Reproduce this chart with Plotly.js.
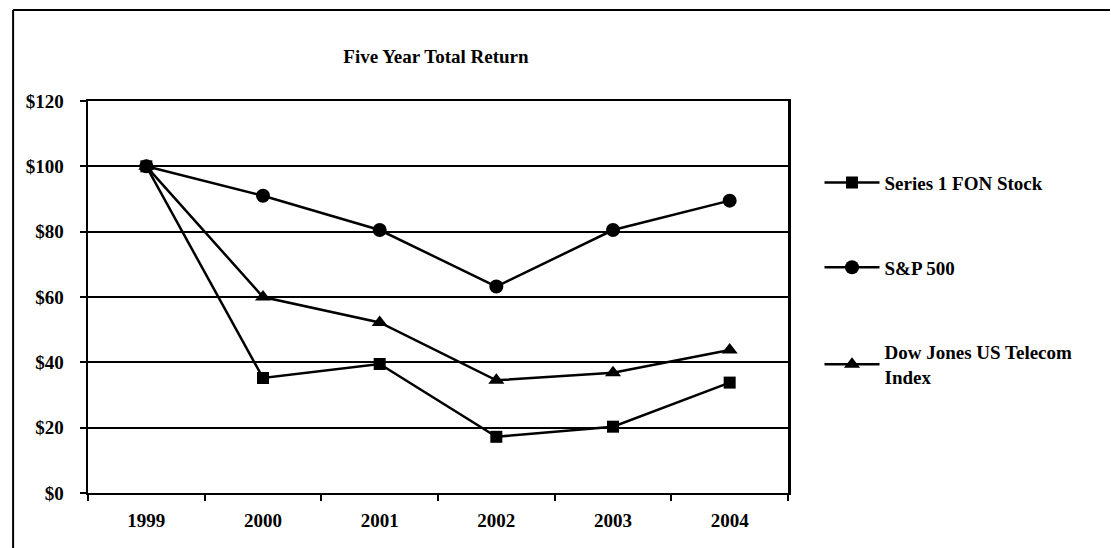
<!DOCTYPE html>
<html>
<head>
<meta charset="utf-8">
<script src="https://cdn.plot.ly/plotly-3.0.1.min.js"></script>
<style>html,body{margin:0;padding:0;background:#fff;}#chart{width:1111px;height:548px;}</style>
</head>
<body>
<div id="chart"></div>
<script>
var years = ['1999', '2000', '2001', '2002', '2003', '2004'];
var fonStock = [100, 35.2, 39.5, 17.2, 20.3, 33.8];
var sp500 = [100, 91, 80.5, 63.2, 80.5, 89.5];
var dowTelecom = [100, 60, 52.2, 34.5, 36.8, 43.8];
var yTicks = [0, 20, 40, 60, 80, 100, 120];
var yTickText = ['$0', '$20', '$40', '$60', '$80', '$100', '$120'];
var names = ['Series 1 FON Stock', 'S&amp;P 500', 'Dow Jones US Telecom<br>Index'];

var serif = 'Liberation Serif, Times New Roman, serif';
function fnt(s) { return {family: serif, size: s, color: '#000', weight: 'bold'}; }
function tr(y, name, sym, size, grp) {
  return {
    x: years, y: y, name: name, type: 'scatter', mode: 'lines+markers',
    line: {color: '#000', width: 2.5},
    marker: {symbol: sym, size: size, color: '#000'},
    legendgroup: grp
  };
}
var data = [
  tr(fonStock, names[0], 'square', 12, 'a'),
  tr(sp500, names[1], 'circle', 14, 'b'),
  tr(dowTelecom, names[2], 'triangle-up', 14, 'c')
];
var layout = {
  width: 1111, height: 548,
  margin: {l: 88, r: 323, t: 101, b: 55},
  paper_bgcolor: '#fff', plot_bgcolor: '#fff',
  font: fnt(19),
  title: {text: 'Five Year Total Return', x: 0.3924, xanchor: 'center', y: 0.898, yanchor: 'middle', font: fnt(19)},
  xaxis: {
    type: 'category', range: [-0.5, 5.5],
    showgrid: false, showline: true, linecolor: '#000', linewidth: 2, mirror: true,
    ticks: 'outside', ticklen: 6, tickcolor: '#000', tickwidth: 2,
    tickson: 'boundaries', ticklabelstandoff: 9,
    tickfont: fnt(19),
    zeroline: false
  },
  yaxis: {
    range: [0, 120], tickvals: yTicks, ticktext: yTickText,
    showgrid: true, gridcolor: '#000', gridwidth: 2,
    showline: true, linecolor: '#000', linewidth: 2.5, mirror: true,
    ticks: 'outside', ticklen: 6, tickcolor: '#000', tickwidth: 2,
    ticklabelstandoff: 12,
    tickfont: fnt(19),
    zeroline: false
  },
  showlegend: true,
  legend: {
    x: 1.045, xanchor: 'left', y: 0.84, yanchor: 'top',
    font: fnt(19),
    tracegroupgap: 57, itemwidth: 55,
    bgcolor: 'rgba(0,0,0,0)', traceorder: 'grouped'
  },
  shapes: [
    {type: 'line', xref: 'paper', yref: 'paper', x0: -0.107, x1: -0.107, y0: 1.232, y1: -0.2, line: {color: '#000', width: 2}},
    {type: 'line', xref: 'paper', yref: 'paper', x0: -0.107, x1: 1.46, y0: 1.232, y1: 1.232, line: {color: '#000', width: 2}}
  ]
};
Plotly.newPlot('chart', data, layout, {displayModeBar: false, staticPlot: true});
</script>
</body>
</html>
